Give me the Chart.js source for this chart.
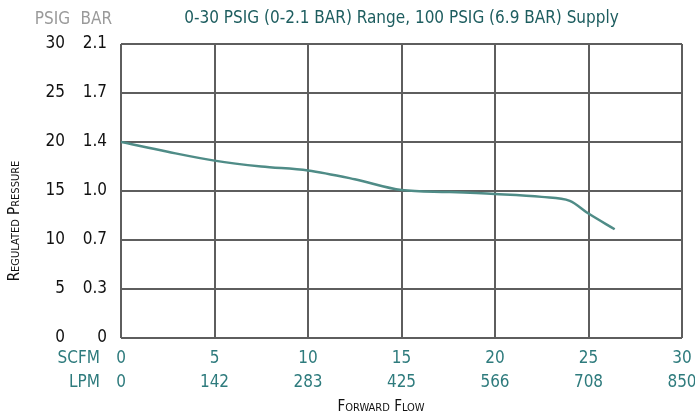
<!DOCTYPE html>
<html lang="en">
<head>
    <meta charset="UTF-8">
    <title>Regulated Pressure vs Forward Flow</title>
    <script src="https://cdn.jsdelivr.net/npm/chart.js"></script>
    <style>
        body {
            margin: 0;
            padding: 0;
            background: #ffffff;
        }

        .chart-box {
            width: 695px;
            height: 415px;
            position: relative;
        }
    </style>
</head>
<body>
    <div class="chart-box">
        <canvas id="flowChart"></canvas>
    </div>

    <script>
        // data
        const flowScfm = [0, 2.5, 5, 7.5, 10, 12.5, 15, 17.5, 20, 22.5, 24, 25, 26.4];
        const pressurePsig = [20.0, 19.0, 18.1, 17.5, 17.1, 16.2, 15.1, 14.9, 14.7, 14.4, 14.0, 12.7, 11.1];

        // tick labels
        const psigTicks = [0, 5, 10, 15, 20, 25, 30];
        const barTicks = ["0", "0.3", "0.7", "1.0", "1.4", "1.7", "2.1"];
        const scfmTicks = [0, 5, 10, 15, 20, 25, 30];
        const lpmTicks = ["0", "142", "283", "425", "566", "708", "850"];

        const titleText = "0-30 PSIG (0-2.1 BAR) Range, 100 PSIG (6.9 BAR) Supply";
        const FONT = "'Liberation Sans Narrow', 'DejaVu Sans Condensed', Roboto, sans-serif";
        const TEAL = "#2e7b7d";

        // extra texts: header, row names, axis titles
        const labelsPlugin = {
            id: "labels",
            afterDraw(chart) {
                const c = chart.ctx;
                const area = chart.chartArea;
                c.save();
                c.textBaseline = "middle";

                c.font = "17px " + FONT;
                c.fillStyle = "#1d5d5f";
                c.textAlign = "center";
                c.fillText(titleText, (area.left + area.right) / 2, 19);

                c.fillStyle = "#9a9a9a";
                c.textAlign = "right";
                c.fillText("PSIG", 70, 20);
                c.fillText("BAR", 112, 20);

                c.fillStyle = TEAL;
                c.fillText("SCFM", 100, 359);
                c.fillText("LPM", 100, 383);

                c.fillStyle = "#111";
                c.font = "small-caps 15px " + FONT;
                c.fontVariantCaps = "small-caps";
                c.textAlign = "center";
                c.fillText("Forward Flow", 381, 407);

                c.translate(15, 221);
                c.rotate(-Math.PI / 2);
                c.fillText("Regulated Pressure", 0, 0);
                c.restore();
            }
        };

        const ctx = document.getElementById("flowChart").getContext("2d");

        new Chart(ctx, {
            type: "line",
            data: {
                datasets: [{
                    data: flowScfm.map((x, i) => ({ x: x, y: pressurePsig[i] })),
                    borderColor: "#4f8c87",
                    borderWidth: 2.5,
                    pointRadius: 0,
                    fill: false,
                    cubicInterpolationMode: "monotone"
                }]
            },
            options: {
                responsive: true,
                maintainAspectRatio: false,
                animation: false,
                layout: {
                    padding: { top: 44, right: 13, left: 0, bottom: 0 }
                },
                plugins: {
                    legend: { display: false },
                    tooltip: { enabled: false }
                },
                scales: {
                    x: {
                        type: "linear",
                        min: 0,
                        max: 30,
                        afterBuildTicks(scale) {
                            scale.ticks = scfmTicks.map(v => ({ value: v }));
                        },
                        afterFit(scale) {
                            scale.height = 77;
                            scale.paddingLeft = 0;
                            scale.paddingRight = 0;
                        },
                        border: { display: false },
                        grid: { color: "#5e5e5e", lineWidth: 2, drawTicks: false },
                        ticks: {
                            padding: 9,
                            maxRotation: 0,
                            color: TEAL,
                            font: { family: FONT, size: 17, lineHeight: 1.41 },
                            callback: (v, i) => [String(scfmTicks[i]), lpmTicks[i]]
                        }
                    },
                    y: {
                        position: "left",
                        weight: 1,
                        min: 0,
                        max: 30,
                        afterBuildTicks(scale) {
                            scale.ticks = psigTicks.map(v => ({ value: v }));
                        },
                        afterFit(scale) { scale.width = 70; },
                        border: { display: false },
                        grid: { color: "#5e5e5e", lineWidth: 2, drawTicks: false },
                        ticks: {
                            padding: 5,
                            color: "#111",
                            font: { family: FONT, size: 17 }
                        }
                    },
                    y2: {
                        position: "left",
                        weight: 0,
                        min: 0,
                        max: 30,
                        afterBuildTicks(scale) {
                            scale.ticks = psigTicks.map(v => ({ value: v }));
                        },
                        afterFit(scale) { scale.width = 51; },
                        border: { display: false },
                        grid: { display: false, drawTicks: false },
                        ticks: {
                            padding: 14,
                            color: "#111",
                            font: { family: FONT, size: 17 },
                            callback: (v, i) => barTicks[i]
                        }
                    }
                }
            },
            plugins: [labelsPlugin]
        });
    </script>
</body>
</html>
